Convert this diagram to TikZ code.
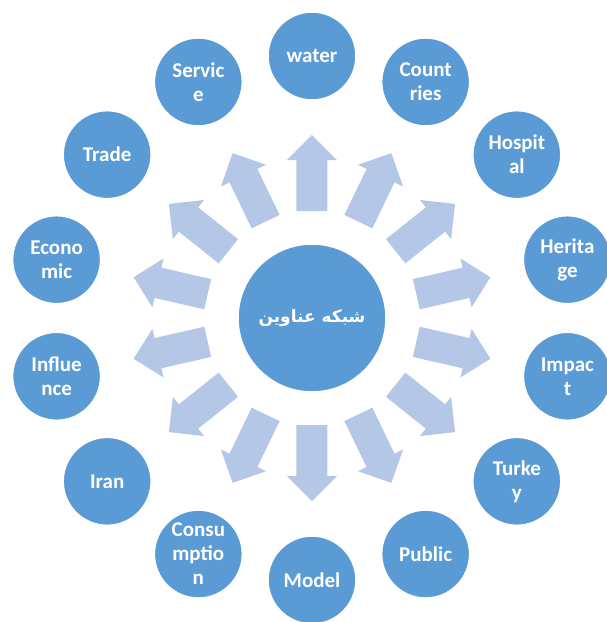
\documentclass[tikz,border=0pt]{standalone}
\usepackage{fontspec}
\setmainfont{Carlito}
\newfontfamily\farsi[Script=Arabic]{DejaVu Sans}
\TeXXeTstate=1
\definecolor{kreisblau}{HTML}{5B9BD5}
\definecolor{pfeilblau}{HTML}{B4C7E7}
\begin{document}
\begin{tikzpicture}[x=1pt,y=1pt]
\tikzset{knoten/.style={circle,fill=kreisblau,draw=white,line width=1.5pt,minimum size=88pt,inner sep=0pt,text=white,align=center,font=\fontsize{21}{24}\selectfont\bfseries}}
\tikzset{pfeil/.style={fill=pfeilblau}}
\useasboundingbox (-312,-304) rectangle (295,318);
\node [knoten,minimum size=148pt] (m) at (0,0) {\farsi\fontsize{17}{20}\selectfont\bfseries\beginR شبکه عناوین\endR};
\node [knoten] (a) at (90:262) {water};
\node [knoten] (b) at (64.29:262) {Count\\ries};
\node [knoten] (c) at (38.57:262) {Hospit\\al};
\node [knoten] (d) at (12.86:262) {Herita\\ge};
\node [knoten] (e) at (-12.86:262) {Impac\\t};
\node [knoten] (f) at (-38.57:262) {Turke\\y};
\node [knoten] (g) at (-64.29:262) {Public};
\node [knoten] (h) at (-90:262) {Model};
\node [knoten] (i) at (-115.71:262) {Consu\\mptio\\n};
\node [knoten] (j) at (-141.43:262) {Iran};
\node [knoten] (k) at (-167.14:262) {Influe\\nce};
\node [knoten] (l) at (167.14:262) {Econo\\mic};
\node [knoten] (n) at (141.43:262) {Trade};
\node [knoten] (o) at (115.71:262) {Servic\\e};
\fill[pfeil,rotate=90] (107,-15.5) -- (158,-15.5) -- (158,-25) -- (183,0) -- (158,25) -- (158,15.5) -- (107,15.5) -- cycle;
\fill[pfeil,rotate=64.29] (107,-15.5) -- (158,-15.5) -- (158,-25) -- (183,0) -- (158,25) -- (158,15.5) -- (107,15.5) -- cycle;
\fill[pfeil,rotate=38.57] (107,-15.5) -- (158,-15.5) -- (158,-25) -- (183,0) -- (158,25) -- (158,15.5) -- (107,15.5) -- cycle;
\fill[pfeil,rotate=12.86] (107,-15.5) -- (158,-15.5) -- (158,-25) -- (183,0) -- (158,25) -- (158,15.5) -- (107,15.5) -- cycle;
\fill[pfeil,rotate=-12.86] (107,-15.5) -- (158,-15.5) -- (158,-25) -- (183,0) -- (158,25) -- (158,15.5) -- (107,15.5) -- cycle;
\fill[pfeil,rotate=-38.57] (107,-15.5) -- (158,-15.5) -- (158,-25) -- (183,0) -- (158,25) -- (158,15.5) -- (107,15.5) -- cycle;
\fill[pfeil,rotate=-64.29] (107,-15.5) -- (158,-15.5) -- (158,-25) -- (183,0) -- (158,25) -- (158,15.5) -- (107,15.5) -- cycle;
\fill[pfeil,rotate=-90] (107,-15.5) -- (158,-15.5) -- (158,-25) -- (183,0) -- (158,25) -- (158,15.5) -- (107,15.5) -- cycle;
\fill[pfeil,rotate=-115.71] (107,-15.5) -- (158,-15.5) -- (158,-25) -- (183,0) -- (158,25) -- (158,15.5) -- (107,15.5) -- cycle;
\fill[pfeil,rotate=-141.43] (107,-15.5) -- (158,-15.5) -- (158,-25) -- (183,0) -- (158,25) -- (158,15.5) -- (107,15.5) -- cycle;
\fill[pfeil,rotate=-167.14] (107,-15.5) -- (158,-15.5) -- (158,-25) -- (183,0) -- (158,25) -- (158,15.5) -- (107,15.5) -- cycle;
\fill[pfeil,rotate=167.14] (107,-15.5) -- (158,-15.5) -- (158,-25) -- (183,0) -- (158,25) -- (158,15.5) -- (107,15.5) -- cycle;
\fill[pfeil,rotate=141.43] (107,-15.5) -- (158,-15.5) -- (158,-25) -- (183,0) -- (158,25) -- (158,15.5) -- (107,15.5) -- cycle;
\fill[pfeil,rotate=115.71] (107,-15.5) -- (158,-15.5) -- (158,-25) -- (183,0) -- (158,25) -- (158,15.5) -- (107,15.5) -- cycle;
\end{tikzpicture}
\end{document}
